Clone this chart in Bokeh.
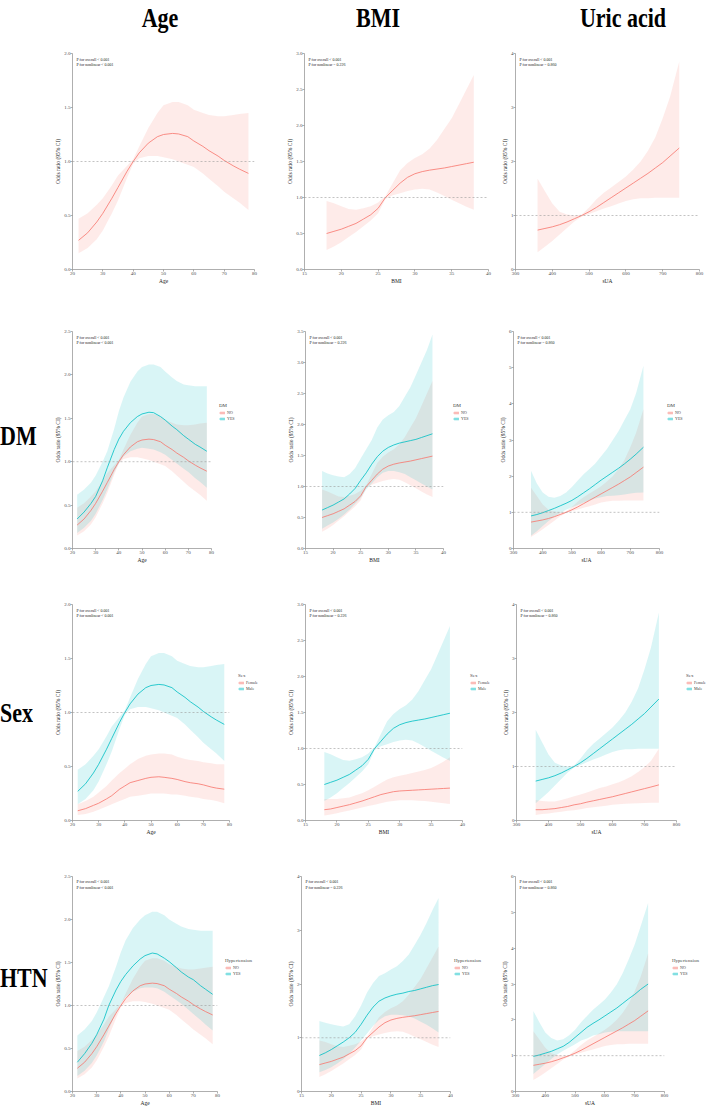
from bokeh.plotting import figure
from bokeh.models import (Range1d, FixedTicker, PrintfTickFormatter, Span, Label,
                          Legend, LegendItem, Div)
from bokeh.layouts import column, row
from bokeh.embed import file_html
from bokeh.resources import INLINE

PINK = "#F8766D"
CYAN = "#00BFC4"
SERIF = "Liberation Serif"

# ---------------- data ----------------
COL_TITLES = ["Age", "BMI", "Uric acid"]
ROW_TITLES = ["", "DM", "Sex", "HTN"]
X_LABELS = ["Age", "BMI", "sUA"]
P_OVERALL = ["< 0.001", "< 0.001", "< 0.001"]
P_NONLINEAR = ["< 0.001", "= 0.226", "= 0.860"]
LEGEND_TITLES = [None, "DM", "Sex", "Hypertension"]
GROUP_LABELS = [None, ["NO", "YES"], ["Female", "Male"], ["NO", "YES"]]

# Age
AGE_X = [22, 25, 28, 30, 33, 35, 38, 40, 42, 45, 48, 50, 53, 55, 58, 60, 63, 65, 68, 70, 73, 75, 78]
AGE_OR = [0.27, 0.34, 0.44, 0.52, 0.66, 0.76, 0.91, 1.00, 1.08, 1.17, 1.23, 1.25, 1.26, 1.255, 1.23, 1.19, 1.14, 1.10, 1.05, 1.01, 0.96, 0.93, 0.89]
AGE_LO = [0.15, 0.20, 0.28, 0.36, 0.52, 0.64, 0.85, 0.98, 1.03, 1.05, 1.05, 1.04, 1.02, 1.00, 0.97, 0.95, 0.89, 0.84, 0.77, 0.72, 0.66, 0.62, 0.55]
AGE_HI = [0.47, 0.52, 0.60, 0.66, 0.78, 0.87, 0.96, 1.02, 1.14, 1.31, 1.45, 1.52, 1.55, 1.55, 1.52, 1.48, 1.45, 1.43, 1.42, 1.42, 1.43, 1.44, 1.45]
AGE_DM_OR = [0.34, 0.42, 0.52, 0.60, 0.78, 0.93, 1.14, 1.26, 1.35, 1.45, 1.52, 1.55, 1.57, 1.565, 1.52, 1.48, 1.41, 1.37, 1.30, 1.26, 1.20, 1.17, 1.12]
AGE_DM_LO = [0.18, 0.24, 0.32, 0.40, 0.56, 0.68, 0.88, 0.98, 1.06, 1.12, 1.15, 1.16, 1.15, 1.14, 1.11, 1.08, 1.02, 0.98, 0.92, 0.88, 0.81, 0.77, 0.70]
AGE_DM_HI = [0.62, 0.68, 0.76, 0.84, 1.00, 1.12, 1.38, 1.58, 1.74, 1.92, 2.04, 2.09, 2.12, 2.12, 2.09, 2.04, 1.97, 1.93, 1.89, 1.88, 1.87, 1.87, 1.87]
AGE_F_OR = [0.09, 0.11, 0.14, 0.16, 0.20, 0.23, 0.29, 0.32, 0.35, 0.37, 0.39, 0.40, 0.405, 0.40, 0.39, 0.38, 0.36, 0.35, 0.34, 0.33, 0.31, 0.30, 0.29]
AGE_F_LO = [0.05, 0.06, 0.08, 0.10, 0.13, 0.15, 0.18, 0.20, 0.22, 0.23, 0.24, 0.25, 0.25, 0.25, 0.24, 0.24, 0.23, 0.22, 0.21, 0.20, 0.19, 0.18, 0.16]
AGE_F_HI = [0.15, 0.18, 0.22, 0.26, 0.32, 0.37, 0.44, 0.48, 0.52, 0.57, 0.60, 0.61, 0.62, 0.62, 0.61, 0.59, 0.57, 0.56, 0.55, 0.54, 0.53, 0.52, 0.52]
AGE_HTN_OR = [0.34, 0.44, 0.56, 0.66, 0.84, 1.00, 1.18, 1.28, 1.36, 1.46, 1.54, 1.58, 1.61, 1.60, 1.55, 1.51, 1.44, 1.39, 1.33, 1.30, 1.23, 1.19, 1.13]
AGE_HTN_LO = [0.18, 0.24, 0.33, 0.42, 0.58, 0.72, 0.92, 1.02, 1.10, 1.16, 1.20, 1.21, 1.21, 1.20, 1.16, 1.12, 1.06, 1.02, 0.95, 0.90, 0.83, 0.78, 0.71]
AGE_HTN_HI = [0.65, 0.72, 0.82, 0.92, 1.10, 1.22, 1.45, 1.62, 1.76, 1.90, 2.00, 2.05, 2.09, 2.09, 2.05, 2.00, 1.95, 1.92, 1.89, 1.88, 1.87, 1.87, 1.87]

# BMI
BMI_X = [18, 19, 20, 21, 22, 23, 24, 25, 26, 27, 28, 29, 30, 31, 32, 33, 34, 35, 36, 37, 38]
BMI_OR = [0.50, 0.53, 0.56, 0.60, 0.64, 0.70, 0.76, 0.85, 1.00, 1.10, 1.20, 1.28, 1.33, 1.36, 1.38, 1.395, 1.41, 1.43, 1.45, 1.47, 1.49]
BMI_LO = [0.27, 0.32, 0.38, 0.45, 0.52, 0.60, 0.68, 0.78, 0.98, 1.03, 1.06, 1.09, 1.11, 1.12, 1.11, 1.07, 1.02, 0.97, 0.92, 0.87, 0.83]
BMI_HI = [0.95, 0.92, 0.88, 0.84, 0.83, 0.85, 0.88, 0.93, 1.02, 1.20, 1.38, 1.48, 1.55, 1.60, 1.68, 1.80, 1.95, 2.10, 2.30, 2.50, 2.70]
BMI_DM_OR = [0.62, 0.66, 0.70, 0.75, 0.80, 0.88, 0.97, 1.10, 1.22, 1.36, 1.48, 1.57, 1.63, 1.67, 1.70, 1.72, 1.74, 1.76, 1.79, 1.82, 1.85]
BMI_DM_LO = [0.32, 0.37, 0.42, 0.48, 0.55, 0.63, 0.72, 0.82, 0.95, 1.05, 1.15, 1.22, 1.25, 1.25, 1.23, 1.20, 1.15, 1.10, 1.05, 1.00, 0.95]
BMI_DM_HI = [1.25, 1.21, 1.18, 1.16, 1.15, 1.20, 1.30, 1.45, 1.60, 1.75, 1.95, 2.08, 2.15, 2.20, 2.30, 2.45, 2.60, 2.80, 3.00, 3.20, 3.45]
BMI_F_OR = [0.15, 0.16, 0.18, 0.20, 0.22, 0.245, 0.27, 0.30, 0.33, 0.36, 0.38, 0.40, 0.41, 0.415, 0.42, 0.425, 0.43, 0.435, 0.44, 0.445, 0.45]
BMI_F_LO = [0.07, 0.085, 0.10, 0.12, 0.14, 0.16, 0.18, 0.20, 0.22, 0.24, 0.26, 0.27, 0.28, 0.28, 0.28, 0.275, 0.27, 0.26, 0.25, 0.24, 0.23]
BMI_F_HI = [0.30, 0.30, 0.30, 0.31, 0.32, 0.35, 0.38, 0.42, 0.47, 0.52, 0.57, 0.60, 0.62, 0.64, 0.66, 0.68, 0.70, 0.73, 0.77, 0.82, 0.88]
BMI_HTN_OR = [0.67, 0.72, 0.78, 0.85, 0.92, 1.00, 1.10, 1.25, 1.42, 1.57, 1.68, 1.74, 1.78, 1.81, 1.83, 1.86, 1.88, 1.91, 1.94, 1.97, 1.99]
BMI_HTN_LO = [0.36, 0.40, 0.45, 0.52, 0.60, 0.70, 0.82, 0.95, 1.08, 1.22, 1.33, 1.40, 1.43, 1.43, 1.42, 1.40, 1.36, 1.30, 1.24, 1.17, 1.10]
BMI_HTN_HI = [1.31, 1.28, 1.25, 1.23, 1.21, 1.25, 1.40, 1.60, 1.84, 2.02, 2.15, 2.20, 2.27, 2.33, 2.43, 2.55, 2.73, 2.92, 3.14, 3.38, 3.60]

# Serum uric acid
UA_X = [360, 380, 400, 420, 440, 460, 480, 500, 520, 540, 560, 580, 600, 620, 640, 660, 680, 700, 720, 745]
UA_OR = [0.73, 0.76, 0.79, 0.83, 0.88, 0.94, 1.00, 1.07, 1.15, 1.24, 1.33, 1.42, 1.51, 1.60, 1.69, 1.78, 1.88, 1.98, 2.10, 2.25]
UA_LO = [0.32, 0.42, 0.53, 0.65, 0.77, 0.89, 0.98, 1.03, 1.08, 1.13, 1.17, 1.22, 1.27, 1.30, 1.32, 1.32, 1.33, 1.33, 1.33, 1.33]
UA_HI = [1.68, 1.45, 1.22, 1.07, 1.02, 1.00, 1.02, 1.15, 1.30, 1.42, 1.52, 1.62, 1.72, 1.85, 2.00, 2.20, 2.45, 2.80, 3.20, 3.85]
UA_DM_OR = [0.90, 0.94, 0.99, 1.05, 1.11, 1.18, 1.25, 1.33, 1.43, 1.54, 1.65, 1.77, 1.89, 2.00, 2.11, 2.22, 2.34, 2.47, 2.61, 2.80]
UA_DM_LO = [0.35, 0.48, 0.62, 0.76, 0.88, 0.98, 1.07, 1.14, 1.20, 1.27, 1.33, 1.38, 1.42, 1.45, 1.46, 1.47, 1.49, 1.52, 1.54, 1.55]
UA_DM_HI = [2.15, 1.80, 1.55, 1.43, 1.40, 1.45, 1.55, 1.70, 1.88, 2.05, 2.20, 2.35, 2.55, 2.75, 3.00, 3.25, 3.55, 3.85, 4.30, 5.05]
UA_F_OR = [0.20, 0.20, 0.21, 0.22, 0.24, 0.26, 0.29, 0.31, 0.34, 0.365, 0.39, 0.415, 0.44, 0.47, 0.50, 0.53, 0.56, 0.59, 0.62, 0.66]
UA_F_LO = [0.10, 0.12, 0.13, 0.15, 0.16, 0.18, 0.19, 0.21, 0.23, 0.245, 0.26, 0.275, 0.29, 0.30, 0.31, 0.315, 0.32, 0.325, 0.33, 0.33]
UA_F_HI = [0.38, 0.36, 0.35, 0.35, 0.38, 0.41, 0.45, 0.48, 0.52, 0.56, 0.60, 0.63, 0.67, 0.71, 0.76, 0.82, 0.90, 0.99, 1.10, 1.33]
UA_HTN_OR = [0.98, 1.02, 1.07, 1.12, 1.19, 1.26, 1.37, 1.51, 1.65, 1.79, 1.90, 2.00, 2.11, 2.22, 2.33, 2.46, 2.59, 2.71, 2.85, 3.00]
UA_HTN_LO = [0.49, 0.63, 0.77, 0.91, 1.03, 1.14, 1.23, 1.32, 1.42, 1.48, 1.56, 1.60, 1.65, 1.67, 1.68, 1.68, 1.68, 1.68, 1.68, 1.68]
UA_HTN_HI = [2.25, 1.93, 1.65, 1.49, 1.42, 1.46, 1.57, 1.72, 1.93, 2.11, 2.28, 2.42, 2.57, 2.76, 2.99, 3.31, 3.69, 4.10, 4.61, 5.26]

X_RANGES = [(20, 80), (15, 40), (300, 800)]
X_TICKS = [[20, 30, 40, 50, 60, 70, 80], [15, 20, 25, 30, 35, 40], [300, 400, 500, 600, 700, 800]]
Y_MAX = [[2.0, 3.0, 4], [2.5, 3.5, 6], [2.0, 3.0, 4], [2.5, 4, 6]]
Y_STEP = [[0.5, 0.5, 1], [0.5, 0.5, 1], [0.5, 0.5, 1], [0.5, 1, 1]]

# per column: x values, overall curve, and the second-group curves of each subgroup row
CURVES = [
    dict(x=AGE_X, base=(AGE_OR, AGE_LO, AGE_HI), dm=(AGE_DM_OR, AGE_DM_LO, AGE_DM_HI),
         female=(AGE_F_OR, AGE_F_LO, AGE_F_HI), htn=(AGE_HTN_OR, AGE_HTN_LO, AGE_HTN_HI)),
    dict(x=BMI_X, base=(BMI_OR, BMI_LO, BMI_HI), dm=(BMI_DM_OR, BMI_DM_LO, BMI_DM_HI),
         female=(BMI_F_OR, BMI_F_LO, BMI_F_HI), htn=(BMI_HTN_OR, BMI_HTN_LO, BMI_HTN_HI)),
    dict(x=UA_X, base=(UA_OR, UA_LO, UA_HI), dm=(UA_DM_OR, UA_DM_LO, UA_DM_HI),
         female=(UA_F_OR, UA_F_LO, UA_F_HI), htn=(UA_HTN_OR, UA_HTN_LO, UA_HTN_HI)),
]

# ---------------- layout geometry ----------------
# (row top, figure height, border top, border bottom)
ROW_GEOM = [(40, 260, 13, 31), (300, 275, 31, 27), (575, 275, 29, 30), (850, 258, 26, 16)]
# per row, per column: (figure width, border left, border right, legend strip width, legend x offset)
COL_GEOM = [
    [(232, 24, 26, 0, 0), (216, 24, 8, 0, 0), (212, 19, 9, 0, 0)],
    [(170, 24, 7, 44, 1), (188, 43, 7, 40, 3), (176, 23, 7, 42, 1)],
    [(188, 24, 7, 29, 2), (204, 40, 7, 21, 1), (193, 26, 7, 25, 3)],
    [(176, 24, 7, 38, 1), (191, 39, 3, 37, 1), (181, 25, 7, 37, 1)],
]
LEGEND_CENTER = [None, 438.5, 711.5, 983.5]
LEGEND_H = 19
LEFT_W = 48
HEADER_H = 40
HEAD_FONT = 22
HEAD_STRETCH = 1.25


def groups_for(r, c):
    cv = CURVES[c]
    if r == 0:
        return [(None, PINK, cv["base"])]
    if r == 1:
        return [("NO", PINK, cv["base"]), ("YES", CYAN, cv["dm"])]
    if r == 2:
        return [("Female", PINK, cv["female"]), ("Male", CYAN, cv["base"])]
    return [("NO", PINK, cv["base"]), ("YES", CYAN, cv["htn"])]


def style_band(p, color, **data):
    return p.varea(fill_color=color, fill_alpha=0.15, **data)


def style_line(p, color, **data):
    return p.line(line_color=color, line_width=0.9, line_alpha=0.9, **data)


def make_panel(r, c):
    y0, fh, bt, bb = ROW_GEOM[r]
    fw, bl, br, lw, loff = COL_GEOM[r][c]
    x0, x1 = X_RANGES[c]
    ymax = Y_MAX[r][c]
    step = Y_STEP[r][c]
    p = figure(width=fw, height=fh, x_range=Range1d(x0, x1), y_range=Range1d(0, ymax),
               output_backend="svg", toolbar_location=None,
               min_border_left=bl, min_border_right=br, min_border_top=bt, min_border_bottom=bb,
               outline_line_color=None, background_fill_color="white",
               border_fill_color="white", margin=(0, 0, 0, 0))
    p.grid.visible = False

    xs = CURVES[c]["x"]
    groups = groups_for(r, c)
    for label, color, (orv, lo, hi) in groups:
        style_band(p, color, x=xs, y1=lo, y2=hi)
    for label, color, (orv, lo, hi) in groups:
        style_line(p, color, x=xs, y=orv)

    p.add_layout(Span(location=1, dimension="width", line_color="#9a9a9a",
                      line_dash="2 2", line_width=0.6))

    n_ticks = int(round(ymax / step))
    yt = [round(i * step, 2) for i in range(n_ticks + 1)]
    p.yaxis.ticker = FixedTicker(ticks=yt)
    p.yaxis.formatter = PrintfTickFormatter(format="%.1f" if step < 1 else "%d")
    p.xaxis.ticker = FixedTicker(ticks=X_TICKS[c])
    p.xaxis.axis_label = X_LABELS[c]
    p.yaxis.axis_label = "Odds ratio (95% CI)"
    for ax in (p.xaxis, p.yaxis):
        ax.axis_line_color = "#8c8c8c"
        ax.axis_line_width = 0.7
        ax.major_tick_line_color = "#8c8c8c"
        ax.major_tick_line_width = 0.7
        ax.major_tick_out = 2
        ax.major_tick_in = 0
        ax.minor_tick_line_color = None
        ax.major_label_text_font = SERIF
        ax.major_label_text_font_size = "5px"
        ax.major_label_text_color = "#4d4d4d"
        ax.major_label_standoff = 0
        ax.axis_label_text_font = SERIF
        ax.axis_label_text_font_size = "5.5px"
        ax.axis_label_text_font_style = "normal"
        ax.axis_label_text_color = "#1a1a1a"
        ax.axis_label_standoff = 0

    fw_frame = fw - bl - br
    fh_frame = fh - bt - bb
    px = x0 + 4.0 / fw_frame * (x1 - x0)
    for k, txt in enumerate(["P for overall " + P_OVERALL[c], "P for nonlinear " + P_NONLINEAR[c]]):
        py = ymax - (5.5 + 5.5 * k) / fh_frame * ymax
        p.add_layout(Label(x=px, y=py, text=txt, text_font=SERIF, text_font_size="4px",
                           text_baseline="middle", text_align="left", text_color="#1a1a1a"))
    out = [p]

    if r > 0:
        # legend strip to the right of the panel; it carries copies of the panel's
        # band/line renderers (outside its own ranges) so the keys share their styling
        lf = figure(width=lw, height=fh, x_range=Range1d(0, 1), y_range=Range1d(-1, 0),
                    output_backend="svg", toolbar_location=None, min_border=0,
                    outline_line_color=None, x_axis_type=None, y_axis_type=None,
                    background_fill_color="white", border_fill_color="white",
                    margin=(0, 0, 0, 0))
        lf.grid.visible = False
        items = []
        for k, (label, color, (orv, lo, hi)) in enumerate(groups):
            b = style_band(lf, color, x=xs, y1=lo, y2=hi)
            ln = style_line(lf, color, x=xs, y=orv)
            items.append(LegendItem(label=GROUP_LABELS[r][k], renderers=[b, ln]))
        center_rel = LEGEND_CENTER[r] - y0
        leg = Legend(items=items, title=LEGEND_TITLES[r],
                     location=(loff, fh - center_rel - LEGEND_H / 2),
                     margin=0, padding=0, spacing=0, label_height=6, label_width=10,
                     glyph_width=6, glyph_height=5, label_standoff=2, title_standoff=1,
                     label_text_font=SERIF, label_text_font_size="4px",
                     title_text_font=SERIF, title_text_font_size="5px",
                     title_text_font_style="normal", border_line_color=None,
                     background_fill_alpha=0)
        lf.add_layout(leg)
        out.append(lf)
    return out


def head_span(text, left, top, centered):
    shift = "translateX(-50%) " if centered else ""
    return (f'<span style="position:absolute;left:{left}px;top:{top:.1f}px;'
            f'transform:{shift}scaleY({HEAD_STRETCH});transform-origin:0 0;'
            f"font-family:'{SERIF}';font-weight:bold;font-size:{HEAD_FONT}px;"
            f'line-height:{HEAD_FONT}px;color:#000;white-space:nowrap;">{text}</span>')


BASE_OFF = 0.8375 * HEAD_FONT * HEAD_STRETCH


def header_div():
    centers = [160, 378, 623]
    spans = "".join(head_span(t, cx, 27 - BASE_OFF, True) for cx, t in zip(centers, COL_TITLES))
    html = f'<div style="position:relative;width:708px;height:{HEADER_H}px;">{spans}</div>'
    return Div(text=html, width=708, height=HEADER_H, margin=(0, 0, 0, 0))


def row_div(r):
    y0, fh, bt, bb = ROW_GEOM[r]
    baselines = [None, 445, 722, 987]
    inner = ""
    if ROW_TITLES[r]:
        inner = head_span(ROW_TITLES[r], 0, baselines[r] - y0 - BASE_OFF, False)
    html = f'<div style="position:relative;width:{LEFT_W}px;height:{fh}px;">{inner}</div>'
    return Div(text=html, width=LEFT_W, height=fh, margin=(0, 0, 0, 0))


rows = [header_div()]
for r in range(4):
    parts = [row_div(r)]
    for c in range(3):
        parts.extend(make_panel(r, c))
    rows.append(row(*parts, spacing=0))
page = column(*rows, spacing=0)

open("out.html", "w").write(file_html(page, INLINE))
